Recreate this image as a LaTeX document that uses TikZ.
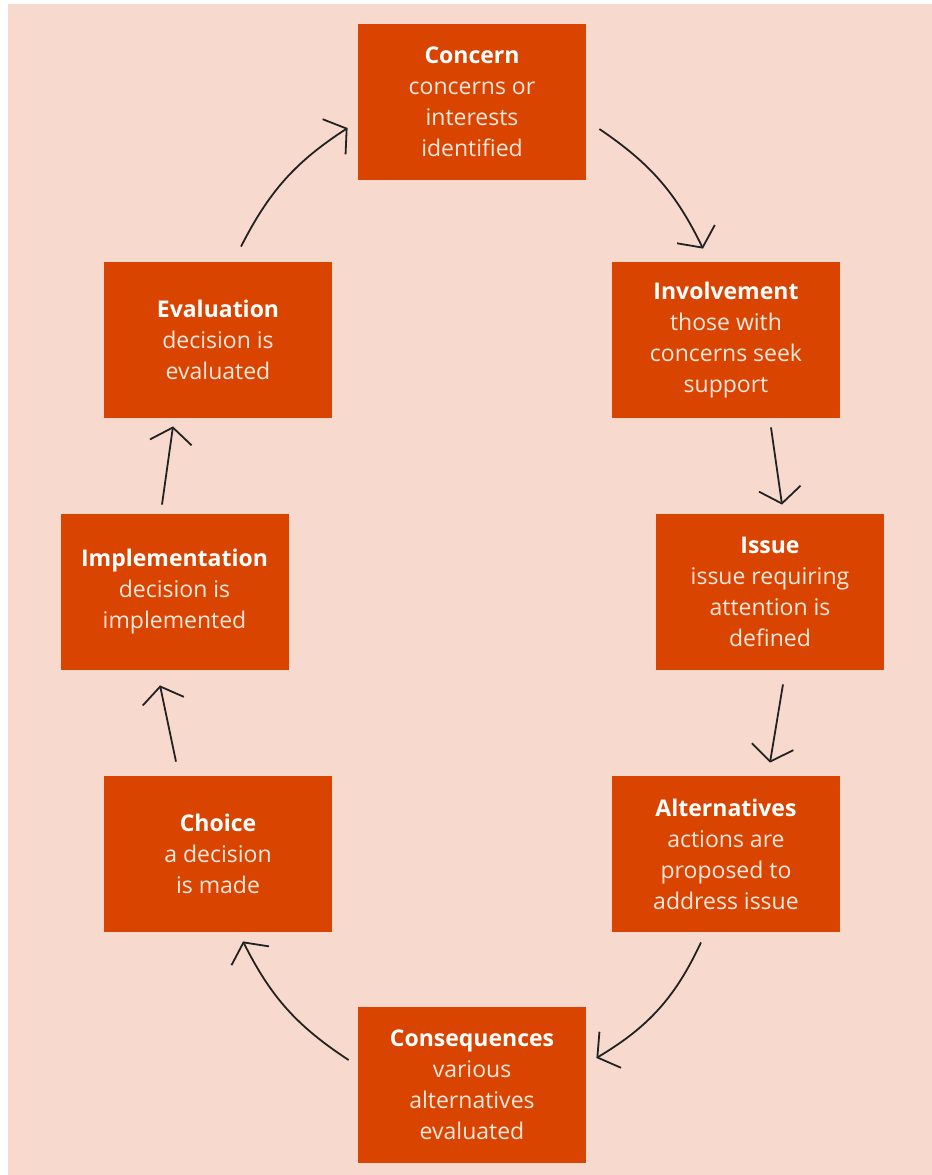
\documentclass[tikz,border=0pt]{standalone}
\usepackage{fontspec}
\setmainfont{Open Sans}
\usetikzlibrary{arrows.meta, positioning}
\definecolor{stageorange}{RGB}{217, 68, 0}
\definecolor{peachbg}{RGB}{247, 218, 205}
\definecolor{paletext}{RGB}{253, 232, 222}
\definecolor{inkgray}{RGB}{34, 34, 34}

\begin{document}
\begin{tikzpicture}[
    x=0.5pt, y=-0.5pt,
    stage/.style={rectangle, minimum width=114pt, minimum height=78pt, inner sep=0pt, align=center, fill=stageorange, text=paletext, font=\fontsize{11.5}{15.5}\selectfont},
    flow/.style={draw=inkgray, line width=0.9pt, -{Straight Barb[length=7.5pt, width=21pt]}}
]

% Background
\fill [white] (0,0) rectangle (932,1175);
\fill [peachbg] (8,4) rectangle (932,1175);
\useasboundingbox (0,0) rectangle (932,1175);

% Stages
\node (concern_box) [stage] at (472,101.5) {\textcolor{white}{\textbf{Concern}}\\concerns or\\interests\\identified};
\node (involvement_box) [stage] at (726,340) {\textcolor{white}{\textbf{Involvement}}\\those with\\concerns seek\\support};
\node (issue_box) [stage] at (770,592) {\textcolor{white}{\textbf{Issue}}\\issue requiring\\attention is\\defined};
\node (alternatives_box) [stage] at (726,854) {\textcolor{white}{\textbf{Alternatives}}\\actions are\\proposed to\\address issue};
\node (consequences_box) [stage] at (472,1085) {\textcolor{white}{\textbf{Consequences}}\\various\\alternatives\\evaluated};
\node (choice_box) [stage] at (218,854) {\textcolor{white}{\textbf{Choice}}\\a decision\\is made};
\node (implementation_box) [stage] at (174.5,592) {\textcolor{white}{\textbf{Implementation}}\\decision is\\implemented};
\node (evaluation_box) [stage] at (218,340) {\textcolor{white}{\textbf{Evaluation}}\\decision is\\evaluated};

% Cycle arrows
\draw [flow] ([shift={(13,27.5)}]concern_box.east) to[bend left=15] ([shift={(-23,-13)}]involvement_box.north);
\draw [flow] ([shift={(45,9)}]involvement_box.south) -- ([shift={(12,-9)}]issue_box.north);
\draw [flow] ([shift={(13,14)}]issue_box.south) -- ([shift={(44,-13)}]alternatives_box.north);
\draw [flow] ([shift={(-25,10)}]alternatives_box.south) to[bend left=17] ([shift={(10,-27)}]consequences_box.east);
\draw [flow] ([shift={(-9,-25)}]consequences_box.west) to[bend left=15] ([shift={(25,9)}]choice_box.south);
\draw [flow] ([shift={(-42,-14)}]choice_box.north) -- ([shift={(-14.5,15)}]implementation_box.south);
\draw [flow] ([shift={(-12.5,-9)}]implementation_box.north) -- ([shift={(-45,8)}]evaluation_box.south);
\draw [flow] ([shift={(23,-15)}]evaluation_box.north) to[bend left=15] ([shift={(-10,26.5)}]concern_box.west);

\end{tikzpicture}
\end{document}
